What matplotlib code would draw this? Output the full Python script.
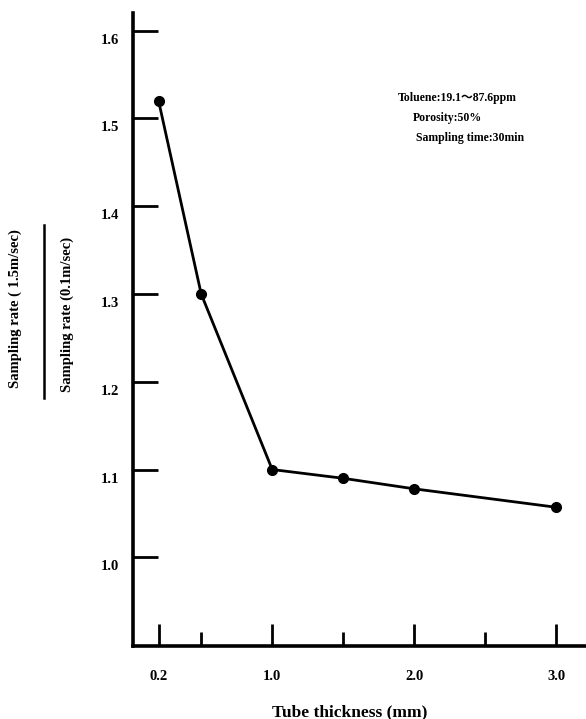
import matplotlib
matplotlib.use("Agg")
import matplotlib.pyplot as plt
import matplotlib.transforms as mtransforms

thickness = [0.2, 0.5, 1.0, 1.5, 2.0, 3.0]
ratio = [1.52, 1.30, 1.10, 1.09, 1.078, 1.057]
major_xticks = [0.2, 1.0, 2.0, 3.0]
major_xlabels = ["0.2", "1.0", "2.0", "3.0"]
minor_xticks = [0.5, 1.5, 2.5]
yticks = [1.0, 1.1, 1.2, 1.3, 1.4, 1.5, 1.6]
ylabels = ["1.0", "1.1", "1.2", "1.3", "1.4", "1.5", "1.6"]
notes = ["Toluene:19.1～87.6ppm", "Porosity:50%", "Sampling time:30min"]

serif = ["Liberation Serif", "DejaVu Serif", "Noto Sans CJK JP"]

fig = plt.figure(figsize=(5.86, 7.19), dpi=100)
ax = fig.add_axes([133/586, 1 - 646/719, 1 - 133/586 + 0.01, (646 - 13)/719])

ax.plot(thickness, ratio, color="black", lw=2, marker="o", ms=7, zorder=3)

ax.set_xlim(0.02, 3.25)
ax.set_ylim(0.899, 1.62)

for s in ["top", "right"]:
    ax.spines[s].set_visible(False)
for s in ["left", "bottom"]:
    ax.spines[s].set_linewidth(2.6)

ax.set_xticks(major_xticks)
ax.set_xticklabels(major_xlabels, fontfamily=serif, fontweight="bold", fontsize=10.5)
ax.set_xticks(minor_xticks, minor=True)
ax.tick_params(axis="x", which="major", direction="in", length=16, width=2, pad=17)
ax.tick_params(axis="x", which="minor", direction="in", length=10, width=2)

ax.set_yticks(yticks)
ax.set_yticklabels(ylabels, fontfamily=serif, fontweight="bold", fontsize=10.5)
ax.tick_params(axis="y", which="major", direction="in", length=18, width=2, pad=10)
offset = mtransforms.ScaledTranslation(0, -8/100, fig.dpi_scale_trans)
for lbl in ax.get_yticklabels():
    lbl.set_transform(lbl.get_transform() + offset)

fig.text(350/586, 1 - 712/719, "Tube thickness (mm)", ha="center", va="center",
         fontfamily=serif, fontweight="bold", fontsize=12.5)

# fraction-style y label
fig.text(15/586, 1 - 309/719, "Sampling rate ( 1.5m/sec)", rotation=90,
         ha="center", va="center", fontfamily=serif, fontweight="bold", fontsize=10.5)
fig.text(67/586, 1 - 314/719, "Sampling rate (0.1m/sec)", rotation=90,
         ha="center", va="center", fontfamily=serif, fontweight="bold", fontsize=10.5)
fig.add_artist(plt.Line2D([44/586, 44/586], [1 - 225/719, 1 - 398/719],
                          transform=fig.transFigure, color="black", lw=1.8))

# annotation block
fig.text(398/586, 1 - 98/719, notes[0], ha="left", va="center",
         fontfamily=serif, fontweight="bold", fontsize=8.5)
fig.text(413/586, 1 - 118/719, notes[1], ha="left", va="center",
         fontfamily=serif, fontweight="bold", fontsize=8.5)
fig.text(416/586, 1 - 138/719, notes[2], ha="left", va="center",
         fontfamily=serif, fontweight="bold", fontsize=8.5)

fig.savefig("out.png", dpi=100)
